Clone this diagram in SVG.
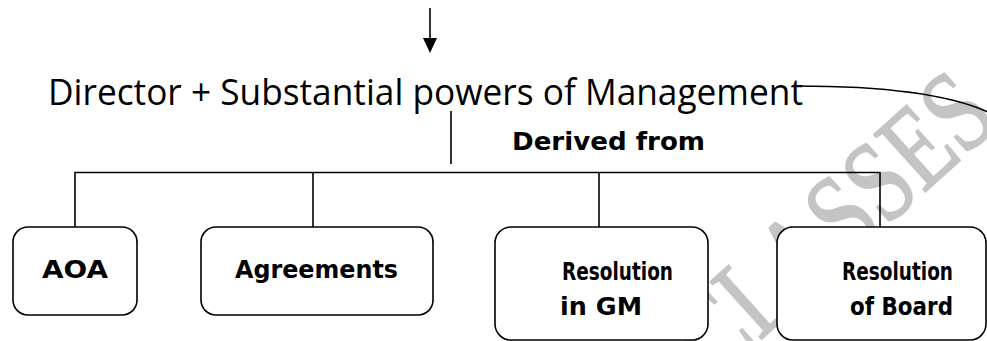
<svg xmlns="http://www.w3.org/2000/svg" width="987" height="341" viewBox="0 0 987 341">
  <style>
    .line { fill: none; stroke: #000; stroke-width: 1.6; }
    .box { fill: #fff; stroke: #000; stroke-width: 1.6; }
    .title { font-family: "Open Sans", "Noto Sans", sans-serif; font-size: 36px; fill: #000; }
    .label { font-family: "DejaVu Sans", "Liberation Sans", sans-serif; font-weight: bold; font-size: 25px; fill: #000; }
    .mark { font-family: "Liberation Serif", "Times New Roman", serif; font-size: 90px; fill: #c4c4c4; stroke: #c4c4c4; stroke-width: 1.5; }
  </style>
  <rect width="987" height="341" fill="#fff"/>

  <!-- background watermark, stretched vertically -->
  <text class="mark" transform="translate(715,381) rotate(-42) scale(1,1.3)">CLASSES</text>

  <!-- connectors -->
  <g id="connectors">
    <line class="line" x1="430" y1="8" x2="430" y2="40"/>
    <path d="M423,38 L437,38 L430,53 Z" fill="#000"/>
    <path class="line" d="M797,86 Q930,86 988,112"/>
    <line class="line" x1="451" y1="111" x2="451" y2="164"/>
    <polyline class="line" points="75,227 75,172.5 880,172.5 880,227"/>
    <line class="line" x1="313" y1="172.5" x2="313" y2="227"/>
    <line class="line" x1="599" y1="172.5" x2="599" y2="227"/>
  </g>

  <g id="title">
    <text class="title" x="48" y="105" textLength="755" lengthAdjust="spacingAndGlyphs">Director + Substantial powers of Management</text>
  </g>

  <g id="derived-from">
    <text class="label" x="512" y="150" textLength="193" lengthAdjust="spacingAndGlyphs">Derived from</text>
  </g>

  <g id="node-aoa">
    <rect class="box" x="13" y="227" width="124" height="88" rx="15"/>
    <text class="label" x="42" y="278" textLength="66" lengthAdjust="spacingAndGlyphs">AOA</text>
  </g>

  <g id="node-agreements">
    <rect class="box" x="201" y="227" width="232" height="88" rx="15"/>
    <text class="label" x="235" y="278" textLength="163" lengthAdjust="spacingAndGlyphs">Agreements</text>
  </g>

  <g id="node-resolution-gm">
    <rect class="box" x="495" y="227" width="213" height="113" rx="16"/>
    <text class="label" x="562" y="280" textLength="111" lengthAdjust="spacingAndGlyphs">Resolution</text>
    <text class="label" x="560" y="315" textLength="82" lengthAdjust="spacingAndGlyphs">in GM</text>
  </g>

  <g id="node-resolution-board">
    <rect class="box" x="777" y="227" width="209" height="113" rx="16"/>
    <text class="label" x="842" y="280" textLength="111" lengthAdjust="spacingAndGlyphs">Resolution</text>
    <text class="label" x="850" y="315" textLength="103" lengthAdjust="spacingAndGlyphs">of Board</text>
  </g>
</svg>
